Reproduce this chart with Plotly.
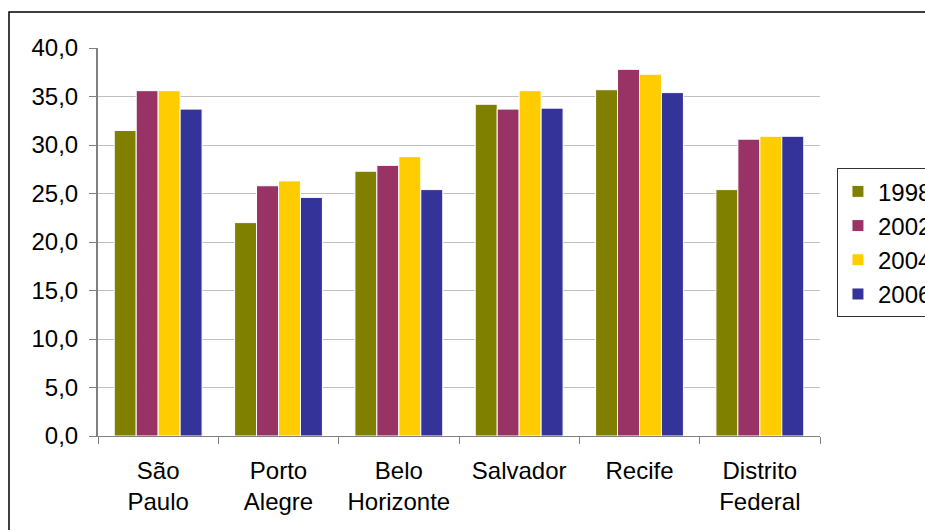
import plotly.graph_objects as go

categories = ["São<br>Paulo", "Porto<br>Alegre", "Belo<br>Horizonte", "Salvador", "Recife", "Distrito<br>Federal"]
years = ["1998", "2002", "2004", "2006"]
v1998 = [31.5, 22.0, 27.3, 34.2, 35.7, 25.4]
v2002 = [35.6, 25.8, 27.9, 33.7, 37.8, 30.6]
v2004 = [35.6, 26.3, 28.8, 35.6, 37.3, 30.9]
v2006 = [33.7, 24.6, 25.4, 33.8, 35.4, 30.9]
series = [v1998, v2002, v2004, v2006]
colors = ["#808000", "#993366", "#FFCC00", "#333399"]
y_ticks = [0, 5, 10, 15, 20, 25, 30, 35, 40]

FONT = "Liberation Sans, Arial, sans-serif"

fig = go.Figure()
for name, vals, col in zip(years, series, colors):
    fig.add_trace(go.Bar(
        x=categories, y=vals, name=name, legendgroup=name,
        marker=dict(color=col, line=dict(color="white", width=1)),
    ))

fig.update_layout(
    width=925, height=530,
    margin=dict(l=98, r=105, t=48, b=94, autoexpand=False),
    paper_bgcolor="white", plot_bgcolor="white",
    font=dict(family=FONT, size=24, color="black"),
    separators=",.",
    barmode="group", bargap=0.27, bargroupgap=0.0,
    showlegend=True,
    legend=dict(
        x=1.0235, y=0.69, xanchor="left", yanchor="top",
        bordercolor="#333333", borderwidth=1, bgcolor="white",
        font=dict(family=FONT, size=24, color="black"),
        traceorder="grouped", tracegroupgap=0,
        itemwidth=30,
    ),
    xaxis=dict(
        showline=True, linecolor="#808080", linewidth=1,
        ticks="outside", tickson="boundaries", ticklen=7, tickcolor="#808080",
        ticklabelstandoff=13,
        showgrid=False,
    ),
    yaxis=dict(
        range=[0, 40], tickvals=y_ticks, tickformat=".1f",
        showline=True, linecolor="#808080", linewidth=2,
        ticks="outside", ticklen=7, tickcolor="#808080",
        showgrid=True, gridcolor="#C0C0C0", gridwidth=1,
        zeroline=False, ticklabelstandoff=6,
    ),
    shapes=[dict(
        type="rect", xref="paper", yref="paper",
        x0=(9 - 98) / 722, x1=1.5, y0=-0.5, y1=(436 - 12) / 388,
        line=dict(color="black", width=1.5), fillcolor="rgba(0,0,0,0)", layer="below",
    )],
)

fig.write_html("out.html")
